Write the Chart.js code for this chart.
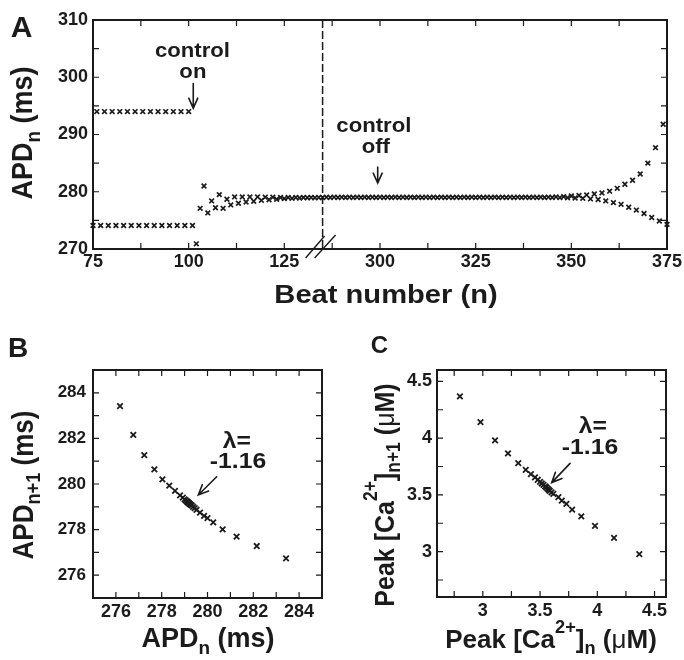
<!DOCTYPE html>
<html><head><meta charset="utf-8">
<script src="https://cdn.jsdelivr.net/npm/chart.js@4.4.0/dist/chart.umd.min.js"></script>
<style>
html,body{margin:0;padding:0;background:#fff;}
#wrap{position:relative;width:684px;height:660px;overflow:hidden;font-family:"Liberation Sans",Arial,Helvetica,sans-serif;font-weight:bold;color:#1b1b1b;}
canvas{position:absolute;}
.t{position:absolute;white-space:nowrap;line-height:1;}
.sub{font-size:.7em;position:relative;top:.35em;}
.sup{font-size:.7em;position:relative;top:-.85em;}
.mu{font-weight:normal;}
</style></head><body>
<div id="wrap">
<canvas id="cA" width="684" height="310" style="left:0;top:0"></canvas>
<canvas id="cB" width="340" height="340" style="left:0;top:320px"></canvas>
<canvas id="cC" width="344" height="340" style="left:340px;top:320px"></canvas>

<div class="t" style="font-size:30px;left:21.5px;top:11.6px;transform:translateX(-50%)">A</div>
<div class="t" style="font-size:28px;left:18px;top:334.3px;transform:translateX(-50%)">B</div>
<div class="t" style="font-size:24px;left:379.5px;top:332.7px;transform:translateX(-50%)">C</div>

<div class="t" style="font-size:27px;left:22.7px;top:133px;transform:translate(-50%,-50%) rotate(-90deg) scaleY(1.1)">APD<span class="sub">n</span> (ms)</div>
<div class="t" style="font-size:26px;left:386px;top:281px;transform:translateX(-50%) scaleX(1.12)">Beat number (n)</div>

<div class="t" style="font-size:26px;left:23.4px;top:485px;transform:translate(-50%,-50%) rotate(-90deg) scaleY(1.1)">APD<span class="sub">n+1</span> (ms)</div>
<div class="t" style="font-size:27px;left:208px;top:625px;transform:translateX(-50%)">APD<span class="sub">n</span> (ms)</div>

<div class="t" style="font-size:25px;left:383.6px;top:495px;transform:translate(-50%,-50%) rotate(-90deg) scaleY(1.12)">Peak [Ca<span class="sup">2+</span>]<span class="sub">n+1</span> (<span class="mu">μ</span>M)</div>
<div class="t" style="font-size:26px;left:551px;top:626px;transform:translateX(-50%)">Peak [Ca<span class="sup">2+</span>]<span class="sub">n</span> (<span class="mu">μ</span>M)</div>
</div>

<script>
const INK = '#1b1b1b';
const FONT = '"Liberation Sans", Arial, Helvetica, sans-serif';

// ---------- Panel A data ----------
const aFirstBeat = 75;            // apdBeforeBreak[i] belongs to beat 75 + i
const apdBeforeBreak = [
  274.1, 294.0, 274.1, 294.0, 274.1, 294.0, 274.1, 294.0, 274.1, 294.0,
  274.1, 294.0, 274.1, 294.0, 274.1, 294.0, 274.1, 294.0, 274.1, 294.0,
  274.1, 294.0, 274.1, 294.0, 274.1, 294.0, 274.1,
  270.9, 277.1, 281.0, 276.3, 278.4, 277.2, 279.5, 277.1, 278.7, 277.7,
  279.1, 278.0, 279.1, 278.2, 279.1, 278.35, 279.1, 278.5, 279.05, 278.6,
  279.05, 278.7, 279.0, 278.8, 279.0, 278.85, 279.0, 278.9, 279.0, 278.95,
  279.0, 278.95, 279.0, 279.0
];
const aSecondBeat = 286;          // apdAfterBreak[i] belongs to beat 286 + i
const apdAfterBreak = [
  279.05, 279.0, 279.05, 279.0, 279.05, 279.0, 279.05, 279.0, 279.05, 279.0,
  279.05, 279.0, 279.05, 279.0, 279.05, 279.0, 279.05, 279.0, 279.05, 279.0,
  279.05, 279.0, 279.05, 279.0, 279.05, 279.0, 279.05, 279.0, 279.05, 279.0,
  279.05, 279.0, 279.05, 279.0, 279.05, 279.0, 279.05, 279.0, 279.05, 279.0,
  279.05, 279.0, 279.05, 279.0, 279.05, 279.0, 279.05, 279.0, 279.05, 279.0,
  279.05, 279.0, 279.05, 279.0, 279.05, 279.0, 279.05, 279.0, 279.05, 279.0,
  279.1, 278.98, 279.15, 278.95, 279.25, 278.9, 279.35, 278.85, 279.45, 278.75,
  279.6, 278.65, 279.8, 278.4, 280.1, 278.1, 280.6, 277.8, 281.3, 277.3,
  282.0, 276.8, 283.1, 276.2, 285.0, 275.5, 287.7, 274.9, 291.8, 274.3
];
const breakFrom = 135, breakTo = 285;   // broken x axis: 135 // 285
const aTickBeats = [75, 87.5, 100, 112.5, 125, 287.5, 300, 312.5, 325, 337.5, 350, 362.5, 375];
const aLabelBeats = [75, 100, 125, 300, 325, 350, 375];
const aTickAPD = [270, 275, 280, 285, 290, 295, 300, 305, 310];
const aLabelAPD = [270, 280, 290, 300, 310];
// annotations: [text, beat, apd baseline]
const aNotes = [['control', 101, 303.6], ['on', 101.1, 299.9], ['control', 298.4, 290.45], ['off', 298.9, 286.8]];
const aArrows = [[101.2, 298.9, 294.6], [299.4, 284.3, 281.5]];   // beat, apd from, apd to

// ---------- Panel B data ----------
const bApdN  = [276.18, 276.76, 277.24, 277.68, 278.03, 278.33, 278.58, 278.8, 278.92, 279.0, 279.05, 279.1, 279.13, 279.16, 279.19, 279.22, 279.26, 279.31, 279.37, 279.44, 279.52, 279.67, 279.85, 280.0, 280.25, 280.66, 281.27, 282.15, 283.43];
const bApdN1 = [283.42, 282.15, 281.27, 280.64, 280.2, 279.93, 279.7, 279.5, 279.4, 279.33, 279.28, 279.24, 279.21, 279.18, 279.16, 279.13, 279.1, 279.06, 279.0, 278.94, 278.87, 278.74, 278.6, 278.5, 278.32, 278.01, 277.69, 277.28, 276.74];
const bTicks = [276, 277, 278, 279, 280, 281, 282, 283, 284];
const bLabels = [276, 278, 280, 282, 284];
const bNotes = [['λ=', 281.28, 281.58], ['-1.16', 281.33, 280.70]];
const bArrow = [280.40, 280.32, 279.60, 279.52];

// ---------- Panel C data ----------
const cCaN  = [2.80, 2.98, 3.107, 3.22, 3.31, 3.375, 3.42, 3.456, 3.48, 3.50, 3.515, 3.53, 3.545, 3.555, 3.565, 3.575, 3.585, 3.60, 3.616, 3.66, 3.69, 3.73, 3.78, 3.86, 3.98, 4.146, 4.367];
const cCaN1 = [4.367, 4.14, 3.98, 3.866, 3.78, 3.72, 3.683, 3.654, 3.633, 3.615, 3.60, 3.588, 3.575, 3.565, 3.555, 3.545, 3.535, 3.522, 3.508, 3.48, 3.45, 3.42, 3.37, 3.31, 3.226, 3.12, 2.978];
const cTicks = [2.75, 3, 3.25, 3.5, 3.75, 4, 4.25, 4.5];
const cLabels = [3, 3.5, 4, 4.5];
const cNotes = [['λ=', 3.962, 4.048], ['-1.16', 3.936, 3.856]];
const cArrow = [3.762, 3.777, 3.602, 3.608];

// ---------- helpers ----------
const mapBeat = n => n <= breakFrom ? n : n - (breakTo - breakFrom);
const unmapBeat = v => v <= breakFrom ? v : v + (breakTo - breakFrom);

function drawText(ctx, s, x, y, size, sx) {
  ctx.save();
  ctx.translate(x, y); ctx.scale(sx, 1);
  ctx.font = `bold ${size}px ${FONT}`;
  ctx.fillStyle = INK; ctx.textAlign = 'center'; ctx.textBaseline = 'alphabetic';
  ctx.fillText(s, 0, 0);
  ctx.restore();
}
function drawArrow(ctx, x1, y1, x2, y2) {
  const ang = Math.atan2(y2 - y1, x2 - x1), L = 11, spread = 0.42;
  ctx.save();
  ctx.strokeStyle = INK; ctx.lineWidth = 1.6; ctx.lineCap = 'round';
  ctx.beginPath();
  ctx.moveTo(x1, y1); ctx.lineTo(x2, y2);
  ctx.moveTo(x2 - L * Math.cos(ang - spread), y2 - L * Math.sin(ang - spread));
  ctx.lineTo(x2, y2);
  ctx.lineTo(x2 - L * Math.cos(ang + spread), y2 - L * Math.sin(ang + spread));
  ctx.stroke();
  ctx.restore();
}

const extras = {};
const framePlugin = {
  id: 'frameTicks',
  beforeDatasetsDraw(chart) {
    const { ctx, chartArea: a, scales: { x, y } } = chart;
    ctx.save();
    ctx.strokeStyle = INK; ctx.lineWidth = 1.2;
    const L = 6;
    ctx.beginPath();
    x.ticks.forEach(t => {
      const px = x.getPixelForValue(t.value);
      if (px < a.left + 2 || px > a.right - 2) return;
      ctx.moveTo(px, a.bottom); ctx.lineTo(px, a.bottom - L);
      ctx.moveTo(px, a.top); ctx.lineTo(px, a.top + L);
    });
    y.ticks.forEach(t => {
      const py = y.getPixelForValue(t.value);
      if (py < a.top + 2 || py > a.bottom - 2) return;
      ctx.moveTo(a.left, py); ctx.lineTo(a.left + L, py);
      ctx.moveTo(a.right, py); ctx.lineTo(a.right - L, py);
    });
    ctx.stroke();
    ctx.lineWidth = 2;
    ctx.strokeRect(a.left, a.top, a.right - a.left, a.bottom - a.top);
    ctx.restore();
    const ex = extras[chart.canvas.id];
    if (ex && ex.under) ex.under(chart);
  },
  afterDatasetsDraw(chart) {
    const ex = extras[chart.canvas.id];
    if (ex && ex.over) ex.over(chart);
  }
};

function tickFont(size) { return { family: FONT, size: size, weight: 'bold' }; }

function makeChart(id, points, xs, ys, layoutPad, yWidth, xHeight, radius, bw) {
  return new Chart(document.getElementById(id), {
    type: 'scatter',
    data: { datasets: [{
      data: points,
      pointStyle: 'crossRot',
      pointRadius: radius,
      pointBorderWidth: bw,
      borderColor: INK,
      backgroundColor: INK,
      clip: false
    }]},
    options: {
      responsive: false, animation: false, devicePixelRatio: 1,
      layout: { padding: layoutPad },
      plugins: { legend: { display: false }, tooltip: { enabled: false } },
      events: [],
      scales: {
        x: Object.assign({
          type: 'linear', position: 'bottom',
          grid: { display: false, drawTicks: false },
          border: { display: false },
          afterFit: s => { s.height = xHeight; s.paddingLeft = 0; s.paddingRight = 0; }
        }, xs),
        y: Object.assign({
          type: 'linear', position: 'left',
          grid: { display: false, drawTicks: false },
          border: { display: false },
          afterFit: s => { s.width = yWidth; s.paddingTop = 0; s.paddingBottom = 0; }
        }, ys)
      }
    },
    plugins: [framePlugin]
  });
}

// ---------- Panel A ----------
const ptsA = apdBeforeBreak.map((v, i) => ({ x: mapBeat(aFirstBeat + i), y: v }))
  .concat(apdAfterBreak.map((v, i) => ({ x: mapBeat(aSecondBeat + i), y: v })));

extras.cA = {
  under(chart) {
    const { ctx, chartArea: a, scales: { x } } = chart;
    const bx = x.getPixelForValue(mapBeat(breakFrom));
    ctx.save();
    ctx.strokeStyle = INK; ctx.lineWidth = 1.5; ctx.setLineDash([8, 3]);
    ctx.beginPath(); ctx.moveTo(bx, a.top); ctx.lineTo(bx, a.bottom); ctx.stroke();
    ctx.setLineDash([]);
    ctx.lineWidth = 1.4;
    ctx.beginPath();
    ctx.moveTo(bx - 17, a.bottom + 9); ctx.lineTo(bx + 2, a.bottom - 13);
    ctx.moveTo(bx - 8, a.bottom + 9); ctx.lineTo(bx + 13, a.bottom - 14);
    ctx.stroke();
    ctx.restore();
  },
  over(chart) {
    const { ctx, scales: { x, y } } = chart;
    aNotes.forEach(([s, b, v]) => drawText(ctx, s, x.getPixelForValue(mapBeat(b)), y.getPixelForValue(v), 20.5, 1.08));
    aArrows.forEach(([b, v1, v2]) => {
      const px = x.getPixelForValue(mapBeat(b));
      drawArrow(ctx, px, y.getPixelForValue(v1), px, y.getPixelForValue(v2));
    });
  }
};

makeChart('cA', ptsA,
  { min: mapBeat(75), max: mapBeat(375),
    afterBuildTicks: s => { s.ticks = aTickBeats.map(b => ({ value: mapBeat(b) })); },
    ticks: { autoSkip: false, maxRotation: 0, padding: 2, color: INK, font: tickFont(18),
      callback: v => { const b = unmapBeat(v); return aLabelBeats.includes(b) ? String(b) : ''; } } },
  { min: 270, max: 310,
    afterBuildTicks: s => { s.ticks = aTickAPD.map(v => ({ value: v })); },
    ticks: { autoSkip: false, padding: 5, color: INK, font: tickFont(18),
      callback: v => aLabelAPD.includes(v) ? String(v) : '' } },
  { left: 0, top: 20, right: 17, bottom: 21 }, 93, 40, 3.3, 1.7);

// ---------- Panel B ----------
extras.cB = {
  over(chart) {
    const { ctx, scales: { x, y } } = chart;
    bNotes.forEach(([s, vx, vy]) => drawText(ctx, s, x.getPixelForValue(vx), y.getPixelForValue(vy), 21.5, 1.15));
    drawArrow(ctx, x.getPixelForValue(bArrow[0]), y.getPixelForValue(bArrow[1]), x.getPixelForValue(bArrow[2]), y.getPixelForValue(bArrow[3]));
  }
};
makeChart('cB', bApdN.map((v, i) => ({ x: v, y: bApdN1[i] })),
  { min: 275, max: 285,
    afterBuildTicks: s => { s.ticks = bTicks.map(v => ({ value: v })); },
    ticks: { autoSkip: false, maxRotation: 0, padding: 3, color: INK, font: tickFont(18),
      callback: v => bLabels.includes(v) ? String(v) : '' } },
  { min: 275, max: 285,
    afterBuildTicks: s => { s.ticks = bTicks.map(v => ({ value: v })); },
    ticks: { autoSkip: false, padding: 7, color: INK, font: tickFont(17),
      callback: v => bLabels.includes(v) ? String(v) : '' } },
  { left: 0, top: 50, right: 18, bottom: 22 }, 93, 40, 3.9, 1.8);

// ---------- Panel C ----------
extras.cC = {
  over(chart) {
    const { ctx, scales: { x, y } } = chart;
    cNotes.forEach(([s, vx, vy]) => drawText(ctx, s, x.getPixelForValue(vx), y.getPixelForValue(vy), 21.5, 1.15));
    drawArrow(ctx, x.getPixelForValue(cArrow[0]), y.getPixelForValue(cArrow[1]), x.getPixelForValue(cArrow[2]), y.getPixelForValue(cArrow[3]));
  }
};
makeChart('cC', cCaN.map((v, i) => ({ x: v, y: cCaN1[i] })),
  { min: 2.6, max: 4.6,
    afterBuildTicks: s => { s.ticks = cTicks.map(v => ({ value: v })); },
    ticks: { autoSkip: false, maxRotation: 0, padding: 3, color: INK, font: tickFont(18),
      callback: v => cLabels.includes(v) ? String(v) : '' } },
  { min: 2.6, max: 4.6,
    afterBuildTicks: s => { s.ticks = cTicks.map(v => ({ value: v })); },
    ticks: { autoSkip: false, padding: 5, color: INK, font: tickFont(18),
      callback: v => cLabels.includes(v) ? String(v) : '' } },
  { left: 0, top: 50, right: 18, bottom: 23 }, 97, 40, 3.9, 1.8);
</script>
</body></html>
